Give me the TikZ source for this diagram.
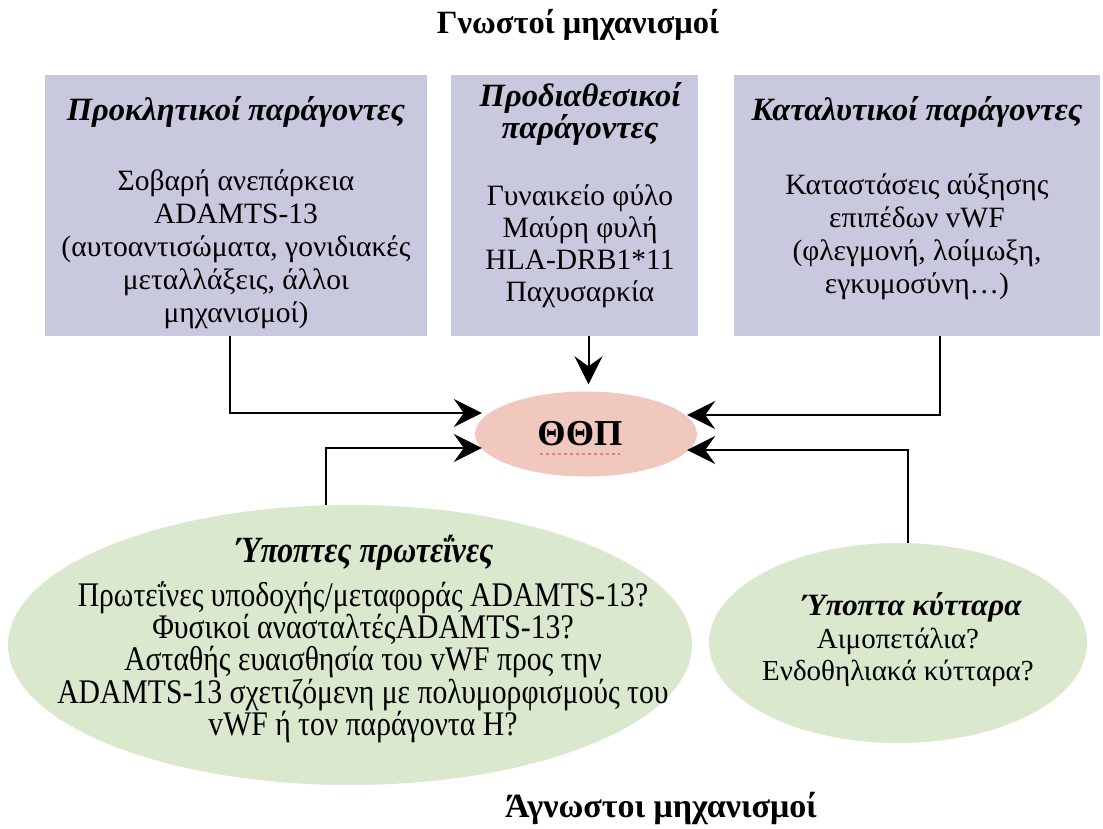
\documentclass[tikz,border=0pt]{standalone}
\usepackage{fontspec}
\setmainfont{Liberation Serif}
\newfontfamily\narrowserif[FakeStretch=0.86]{Liberation Serif}
\usetikzlibrary{arrows.meta,shapes.geometric}
\definecolor{boxfill}{RGB}{200,201,222}
\definecolor{ttpfill}{RGB}{241,200,190}
\definecolor{susfill}{RGB}{218,232,206}
\definecolor{spellred}{RGB}{230,130,110}
\tikzset{
  factorbox/.style={fill=boxfill, draw=none, inner sep=0pt, minimum height=261pt},
  boxtitle/.style={font=\fontsize{32.5}{32}\selectfont\bfseries\itshape, align=center},
  boxbody/.style={font=\fontsize{29.5}{33}\selectfont, align=center},
  susellipse/.style={ellipse, fill=susfill, draw=none, inner sep=0pt},
  heading/.style={font=\fontsize{32.5}{36}\selectfont\bfseries},
  link/.style={line width=2pt, -{Stealth[length=28pt, width=28pt, inset=10pt]}}
}
\begin{document}
\begin{tikzpicture}[x=1pt, y=-1pt]
\useasboundingbox (0,0) rectangle (1103,828);

\node[heading] (known) at (578,25) {Γνωστοί μηχανισμοί};
\node[heading, font=\fontsize{34}{36}\selectfont\bfseries] (unknown) at (661,808) {Άγνωστοι μηχανισμοί};

% three groups of known factors
\node[factorbox, minimum width=382pt] (provoke) at (236,205.5) {};
\node[factorbox, minimum width=247pt] (predisp) at (574.5,205.5) {};
\node[factorbox, minimum width=366pt] (trigger) at (917,205.5) {};

\node[boxtitle] (provoketitle) at (236,112) {Προκλητικοί παράγοντες};
\node[boxbody] (provokebody) at (236,249) {Σοβαρή ανεπάρκεια\\ADAMTS-13\\(αυτοαντισώματα, γονιδιακές\\μεταλλάξεις, άλλοι\\μηχανισμοί)};

\node[boxtitle] (predisptitle) at (580,114) {Προδιαθεσικοί\\παράγοντες};
\node[boxbody, font=\fontsize{29.5}{32}\selectfont] (predispbody) at (580,246) {Γυναικείο φύλο\\Μαύρη φυλή\\HLA-DRB1*11\\Παχυσαρκία};

\node[boxtitle] (triggertitle) at (917,112) {Καταλυτικοί παράγοντες};
\node[boxbody] (triggerbody) at (917,237) {Καταστάσεις αύξησης\\επιπέδων vWF\\(φλεγμονή, λοίμωξη,\\εγκυμοσύνη…)};

% the disease
\node[ellipse, fill=ttpfill, draw=none, minimum width=222pt, minimum height=85pt, inner sep=0pt] (ttp) at (586,434) {};
\node[font=\fontsize{36.5}{40}\selectfont\bfseries] (ttplabel) at (580,434) {ΘΘΠ};
\draw[spellred, line width=2pt, dash pattern=on 3pt off 3pt]
  ([yshift=-8pt]ttplabel.base west) ++(6pt,0) coordinate (ulstart)
  -- ([yshift=-8pt,xshift=-6pt]ttplabel.base east) coordinate (ulend);

% suspected mechanisms
\node[susellipse, minimum width=684pt, minimum height=280pt] (proteins) at (350,645) {};
\node[font=\fontsize{37}{36}\selectfont\narrowserif\bfseries\itshape] (proteinstitle) at (365,553) {Ύποπτες πρωτεΐνες};
\node[font=\fontsize{34.5}{32.3}\selectfont\narrowserif, align=center] (proteinsbody) at (363,662) {Πρωτεΐνες υποδοχής/μεταφοράς ADAMTS-13?\\Φυσικοί ανασταλτέςADAMTS-13?\\Ασταθής ευαισθησία του vWF προς την\\ADAMTS-13 σχετιζόμενη με πολυμορφισμούς του\\vWF ή τον παράγοντα H?};

\node[susellipse, minimum width=378pt, minimum height=200pt] (cells) at (898,643) {};
\node[boxtitle, font=\fontsize{31}{32}\selectfont\bfseries\itshape] (cellstitle) at (912,607) {Ύποπτα κύτταρα};
\node[boxbody, font=\fontsize{29}{32}\selectfont] (cellsbody) at (898,657) {Αιμοπετάλια?\\Ενδοθηλιακά κύτταρα?};

% connectors into the disease node
\coordinate (provokefoot) at ([xshift=-6pt]provoke.south);
\coordinate (predispfoot) at ([xshift=14pt]predisp.south);
\coordinate (triggerfoot) at ([xshift=23pt]trigger.south);
\coordinate (proteinstop) at ([xshift=-24pt]proteins.north);
\coordinate (cellstop) at ([xshift=10pt]cells.north);
\coordinate (ttptop) at ([yshift=7pt]ttp.north);

\draw[link] (provokefoot) |- ([xshift=7pt,yshift=21pt]ttp.west);
\draw[link] (proteinstop) |- ([xshift=7pt,yshift=-14pt]ttp.west);
\draw[link] (predispfoot) -- (predispfoot |- ttptop);
\draw[link] (triggerfoot) |- ([xshift=-10pt,yshift=19pt]ttp.east);
\draw[link] (cellstop) |- ([xshift=-10pt,yshift=-16pt]ttp.east);
\end{tikzpicture}
\end{document}
